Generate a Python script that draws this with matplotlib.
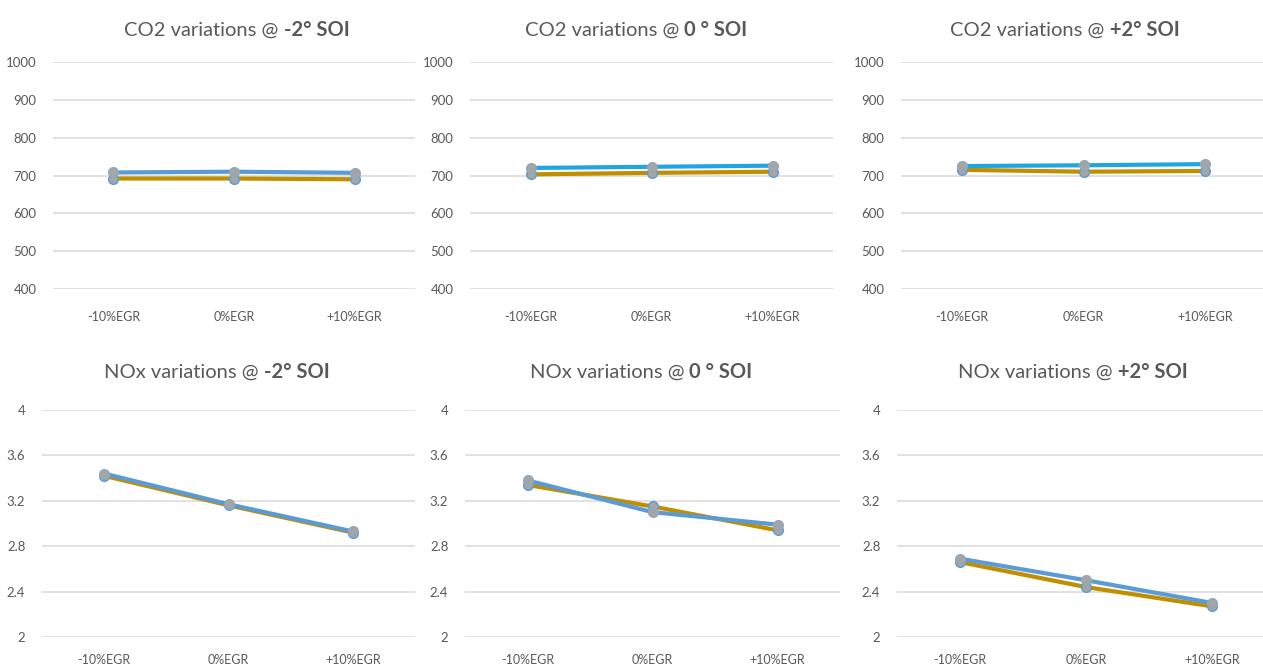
import matplotlib.pyplot as plt
from matplotlib.offsetbox import TextArea, HPacker, AnchoredOffsetbox

categories = ["-10%EGR", "0%EGR", "+10%EGR"]

co2_titles = ["-2° SOI", "0 ° SOI", "+2° SOI"]
co2_blue = [[708, 710, 707], [720, 723, 726], [725, 727, 730]]
co2_gold = [[692, 692, 690], [703, 707, 710], [715, 710, 712]]

nox_titles = ["-2° SOI", "0 ° SOI", "+2° SOI"]
nox_blue = [[3.44, 3.17, 2.93], [3.38, 3.10, 2.99], [2.69, 2.50, 2.30]]
nox_gold = [[3.42, 3.16, 2.92], [3.34, 3.15, 2.94], [2.66, 2.44, 2.27]]

co2_ticks = [400, 500, 600, 700, 800, 900, 1000]
nox_ticks = [2, 2.4, 2.8, 3.2, 3.6, 4]
nox_ticklabels = ["2", "2.4", "2.8", "3.2", "3.6", "4"]

plt.rcParams['font.family'] = ['Lato', 'DejaVu Sans']

W, H = 1263, 668
text_color = "#595959"
grid_color = "#D9D9D9"
gold = "#BF8F00"
blue_left = "#5B9BD5"
blue_cyan = "#1FA6E0"

fig = plt.figure(figsize=(W / 100, H / 100), dpi=100)

# axes boxes in pixels: left, right
top_boxes = [(53, 415), (470, 833), (901, 1266)]
bot_boxes = [(42, 415), (465, 840), (897, 1275)]
top_title_x = [237, 636, 1065]
bot_title_x = [217, 641, 1073]


def make_axes(x0, x1, ytop, ybot):
    return fig.add_axes([x0 / W, 1 - ybot / H, (x1 - x0) / W, (ybot - ytop) / H])


def style_axes(ax, ticks, ticklabels=None, xpad=16):
    ax.set_xlim(-0.5, 2.5)
    ax.set_ylim(ticks[0], ticks[-1])
    ax.set_yticks(ticks)
    if ticklabels is not None:
        ax.set_yticklabels(ticklabels)
    ax.set_xticks(range(len(categories)))
    ax.set_xticklabels(categories)
    for s in ax.spines.values():
        s.set_visible(False)
    ax.tick_params(length=0, colors=text_color)
    ax.tick_params(axis='y', pad=12, labelsize=9.5)
    ax.tick_params(axis='x', pad=xpad, labelsize=9)
    ax.grid(axis='y', color=grid_color, linewidth=1.1)
    ax.set_axisbelow(True)
    ax.set_facecolor("none")


def add_title(name, bold, xpix, ypix):
    t1 = TextArea(name + " ", textprops=dict(color=text_color, size=14.5))
    t2 = TextArea(bold, textprops=dict(color=text_color, size=14.5, weight='bold'))
    box = HPacker(children=[t1, t2], align="baseline", pad=0, sep=0)
    ab = AnchoredOffsetbox(loc='center', child=box, frameon=False, pad=0, borderpad=0,
                           bbox_to_anchor=(xpix / W, 1 - ypix / H),
                           bbox_transform=fig.transFigure)
    fig.add_artist(ab)


def draw_series(ax, blue_vals, gold_vals, blue_color):
    x = range(len(categories))
    ax.plot(x, gold_vals, color=gold, linewidth=3, solid_capstyle='round', zorder=3)
    ax.plot(x, blue_vals, color=blue_color, linewidth=3, solid_capstyle='round', zorder=4)
    ax.plot(x, gold_vals, linestyle='none', marker='o', markersize=7,
            markerfacecolor="#A5A5A5", markeredgecolor=blue_left, markeredgewidth=1, zorder=5)
    ax.plot(x, blue_vals, linestyle='none', marker='o', markersize=7,
            markerfacecolor="#A5A5A5", markeredgecolor="#8FA9BF", markeredgewidth=1, zorder=6)


for i in range(3):
    x0, x1 = top_boxes[i]
    ax = make_axes(x0, x1, 62, 289)
    style_axes(ax, co2_ticks)
    draw_series(ax, co2_blue[i], co2_gold[i], blue_left if i == 0 else blue_cyan)
    add_title("CO2 variations @", co2_titles[i], top_title_x[i], 30)

for i in range(3):
    x0, x1 = bot_boxes[i]
    ax = make_axes(x0, x1, 410, 637)
    style_axes(ax, nox_ticks, nox_ticklabels, xpad=12)
    draw_series(ax, nox_blue[i], nox_gold[i], blue_left)
    add_title("NOx variations @", nox_titles[i], bot_title_x[i], 372)

fig.savefig("out.png", dpi=100, facecolor="white")
